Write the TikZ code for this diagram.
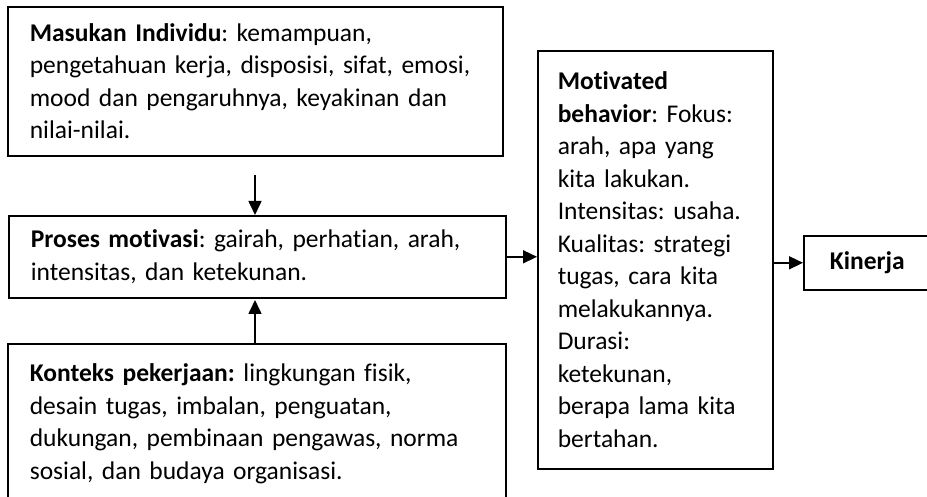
\documentclass[tikz,border=0pt]{standalone}
\usepackage{fontspec}
\setmainfont{Carlito}[Ligatures=NoCommon]
\usetikzlibrary{arrows.meta}
\frenchspacing

\begin{document}
\begin{tikzpicture}[x=1pt, y=-1pt, every node/.style={font=\fontsize{25.5}{32.5}\selectfont},
    box/.style={draw, line width=1.6pt, anchor=north west, inner xsep=22pt, align=left},
    arr/.style={-{Triangle[length=14pt, width=13pt]}, line width=1.6pt}]
    \useasboundingbox (0,0) rectangle (927,497);

    % Masukan individu (top left)
    \node[box, minimum width=493pt, minimum height=149pt, text width=451pt] (masukan) at (7,6)
        {\textbf{Masukan Individu}: kemampuan,\\ pengetahuan kerja, disposisi, sifat, emosi,\\ mood dan pengaruhnya, keyakinan dan\\ nilai-nilai.};

    % Proses motivasi (middle left)
    \node[box, minimum width=497pt, minimum height=82pt, text width=453pt] (proses) at (8,215)
        {\textbf{Proses motivasi}: gairah, perhatian, arah,\\ intensitas, dan ketekunan.};

    % Konteks pekerjaan (bottom left, runs off the page)
    \node[box, minimum width=498pt, minimum height=160pt, text width=454pt] (konteks) at (7,343)
        {\textbf{Konteks pekerjaan:} lingkungan fisik,\\ desain tugas, imbalan, penguatan,\\ dukungan, pembinaan pengawas, norma\\ sosial, dan budaya organisasi.};

    % Motivated behavior (tall box, center)
    \node[box, inner xsep=20pt, minimum width=235pt, minimum height=418pt, text width=195pt] (motivated) at (537,50)
        {\textbf{Motivated}\\ \textbf{behavior}: Fokus:\\ arah, apa yang\\ kita lakukan.\\ Intensitas: usaha.\\ Kualitas: strategi\\ tugas, cara kita\\ melakukannya.\\ Durasi:\\ ketekunan,\\ berapa lama kita\\ bertahan.};

    % Kinerja (far right)
    \node[box, align=center, minimum width=127pt, minimum height=54pt] (kinerja) at (803,235) {\textbf{Kinerja}};

    % free ends of the two vertical arrows
    \coordinate (downtop) at (255,175);
    \coordinate (uptip) at (255,300);

    % Arrows
    \draw[arr] (downtop) -- (downtop |- proses.north);
    \draw[arr] (konteks.north -| uptip) -- (uptip);
    \draw[arr] (proses.east) -- (proses.east -| motivated.west);
    \draw[arr] (kinerja.west -| motivated.east) -- (kinerja.west);
\end{tikzpicture}
\end{document}
